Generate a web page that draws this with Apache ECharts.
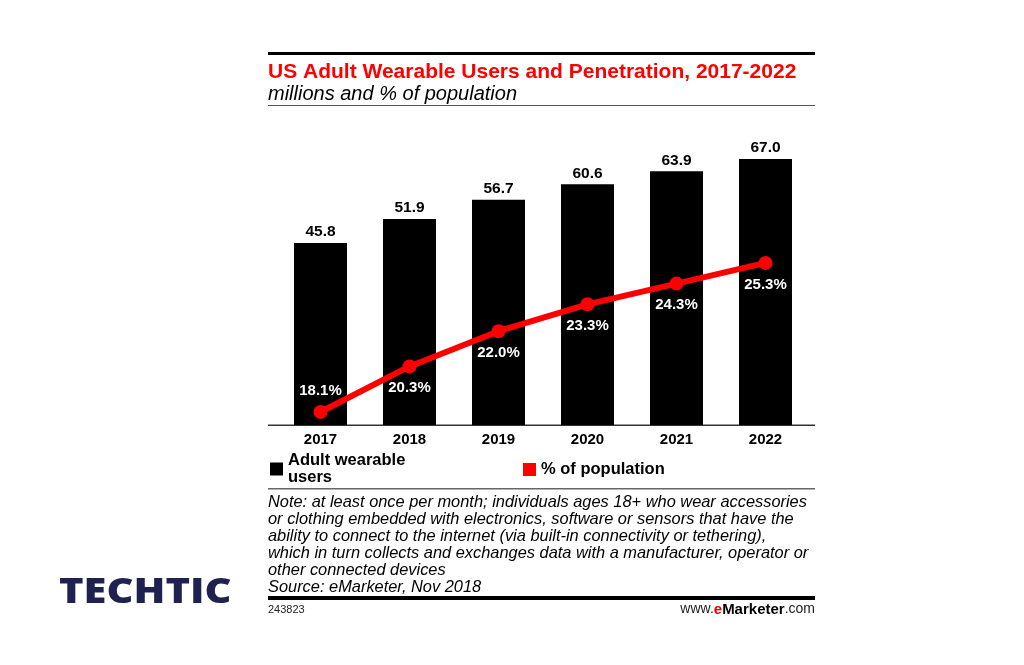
<!DOCTYPE html>
<html>
<head>
<meta charset="utf-8">
<script src="https://cdn.jsdelivr.net/npm/echarts@6/dist/echarts.min.js"></script>
<style>
  html, body { margin: 0; padding: 0; background: #fff; }
  #chart { width: 1024px; height: 665px; }
</style>
</head>
<body>
<div id="chart"></div>
<script>
// values
const years = ['2017', '2018', '2019', '2020', '2021', '2022']
const users = [45.8, 51.9, 56.7, 60.6, 63.9, 67.0]
const penetration = [18.1, 20.3, 22.0, 23.3, 24.3, 25.3]

const noteLines = [
  'Note: at least once per month; individuals ages 18+ who wear accessories',
  'or clothing embedded with electronics, software or sensors that have the',
  'ability to connect to the internet (via built-in connectivity or tethering),',
  'which in turn collects and exchanges data with a manufacturer, operator or',
  'other connected devices',
  'Source: eMarketer, Nov 2018'
]

const font = '"Liberation Sans", Arial, sans-serif'
const chart = echarts.init(document.getElementById('chart'))

const graphics = [
  // top thick rule
  { type: 'rect', shape: { x: 268, y: 52, width: 547, height: 3 }, style: { fill: '#000' } },
  // rule under subtitle
  { type: 'rect', shape: { x: 268, y: 105, width: 547, height: 1 }, style: { fill: '#555' } },
  // baseline
  { type: 'rect', shape: { x: 268, y: 424.5, width: 547, height: 1.5 }, style: { fill: '#333' } },
  // rule above note
  { type: 'rect', shape: { x: 268, y: 488, width: 547, height: 1.5 }, style: { fill: '#666' } },
  // bottom thick rule
  { type: 'rect', shape: { x: 268, y: 596, width: 547, height: 4 }, style: { fill: '#000' } },
  {
    type: 'text', left: 268, top: 604,
    style: { text: '243823', font: '11px ' + font, fill: '#222' }
  },
  {
    type: 'text', right: 209, top: 602,
    style: {
      text: '{a|www.}{e|e}{b|Marketer}{a|.com}',
      rich: {
        a: { fontSize: 14, fontFamily: font, fill: '#222' },
        e: { fontSize: 15, fontWeight: 'bold', fontFamily: font, fill: '#e00000' },
        b: { fontSize: 15, fontWeight: 'bold', fontFamily: font, fill: '#000' }
      }
    }
  },
  // logo
  {
    type: 'text', x: 59, y: 576, scaleX: 1.19, originX: 0, originY: 0,
    style: {
      text: 'TECHTIC', font: '900 35px "Open Sans", ' + font, fill: '#1f2150'
    }
  },
  // subtitle
  {
    type: 'text', left: 268, top: 84,
    style: { text: 'millions and % of population', font: 'italic 20px ' + font, fill: '#000' }
  }
]

noteLines.forEach(function (line, i) {
  graphics.push({
    type: 'text', left: 268, top: 494 + i * 17,
    style: { text: line, font: 'italic 16.4px ' + font, fill: '#000' }
  })
})

chart.setOption({
  animation: false,
  title: {
    left: 263, top: 57,
    text: 'US Adult Wearable Users and Penetration, 2017-2022',
    textStyle: { color: '#ff0000', fontSize: 21, fontWeight: 'bold', fontFamily: font }
  },
  legend: [
    {
      left: 265, top: 447,
      data: ['Adult wearable\nusers'],
      icon: 'rect', itemWidth: 13, itemHeight: 13,
      textStyle: { fontSize: 16.5, fontWeight: 'bold', fontFamily: font, color: '#000', lineHeight: 17 }
    },
    {
      left: 518, top: 456,
      data: ['% of population'],
      icon: 'rect', itemWidth: 13, itemHeight: 13,
      textStyle: { fontSize: 16.5, fontWeight: 'bold', fontFamily: font, color: '#000' }
    }
  ],
  grid: { left: 276, right: 214, top: 147, bottom: 240, containLabel: false },
  xAxis: {
    type: 'category',
    data: years,
    axisLine: { show: false },
    axisTick: { show: false },
    axisLabel: { color: '#000', fontSize: 15, fontWeight: 'bold', fontFamily: font, margin: 7 }
  },
  yAxis: [
    { type: 'value', min: 0, max: 70, show: false },
    { type: 'value', min: 17.47, max: 30.9, show: false }
  ],
  series: [
    {
      name: 'Adult wearable\nusers',
      type: 'bar',
      data: users,
      barWidth: 53,
      itemStyle: { color: '#000' },
      label: {
        show: true, position: 'top', distance: 3,
        formatter: function (p) { return p.value.toFixed(1) },
        color: '#000', fontSize: 15.5, fontWeight: 'bold', fontFamily: font
      }
    },
    {
      name: '% of population',
      type: 'line',
      yAxisIndex: 1,
      data: penetration.map(function (v, i) {
        return { value: v, label: { position: i === 0 ? 'top' : 'bottom' } }
      }),
      symbol: 'circle',
      symbolSize: 14,
      lineStyle: { color: '#ff0000', width: 6 },
      itemStyle: { color: '#ff0000' },
      label: {
        show: true, distance: 7,
        formatter: function (p) { return p.value.toFixed(1) + '%' },
        color: '#fff', fontSize: 15, fontWeight: 'bold', fontFamily: font
      },
      z: 5
    }
  ],
  graphic: graphics
})
</script>
</body>
</html>
